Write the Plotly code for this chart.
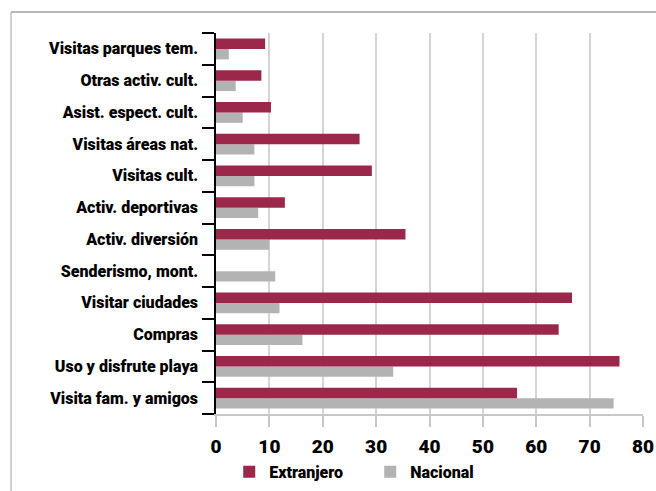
import plotly.graph_objects as go

# categories listed bottom to top, as drawn
categorias = [
    "Visita fam. y amigos",
    "Uso y disfrute playa",
    "Compras",
    "Visitar ciudades",
    "Senderismo, mont.",
    "Activ. diversión",
    "Activ. deportivas",
    "Visitas cult.",
    "Visitas áreas nat.",
    "Asist. espect. cult.",
    "Otras activ. cult.",
    "Visitas parques tem.",
]
extranjero = [56.4, 75.6, 64.2, 66.7, 0.0, 35.5, 12.9, 29.2, 26.9, 10.3, 8.5, 9.2]
nacional = [74.5, 33.2, 16.2, 11.9, 11.1, 10.0, 7.9, 7.2, 7.2, 5.0, 3.7, 2.4]
x_ticks = [0, 10, 20, 30, 40, 50, 60, 70, 80]

FONT = "Roboto, DejaVu Sans Condensed, sans-serif"
MAROON = "#9b284b"
GREY = "#b3b3b3"


def f(size):
    return dict(size=size, family=FONT, weight=900, color="black")


fig = go.Figure()

# Nacional first so it sits below Extranjero inside each group
fig.add_trace(go.Bar(y=categorias, x=nacional, orientation="h", name="Nacional",
                     marker=dict(color=GREY, line=dict(width=0)), legendrank=2))
fig.add_trace(go.Bar(y=categorias, x=extranjero, orientation="h", name="Extranjero",
                     marker=dict(color=MAROON, line=dict(width=0)), legendrank=1))

fig.update_layout(
    template="none",
    width=656, height=491,
    margin=dict(l=216, r=13, t=33, b=77, autoexpand=False),
    paper_bgcolor="white", plot_bgcolor="white",
    barmode="group", bargap=0.34, bargroupgap=0,
    font=f(16),
    showlegend=True,
    legend=dict(orientation="h", x=0.031, xanchor="left", y=-0.152, yanchor="middle",
                font=f(16), entrywidth=96, entrywidthmode="pixels", itemwidth=30,
                bgcolor="rgba(0,0,0,0)"),
    xaxis=dict(range=[0, 80], tickvals=x_ticks, showgrid=True, gridcolor="#d4d4d4", gridwidth=1.5,
               showline=True, linecolor="#c8c8c8", linewidth=1.5,
               ticks="outside", ticklen=11, tickcolor="#c8c8c8", tickwidth=1.5,
               tickfont=f(19), ticklabelstandoff=3,
               zeroline=False, automargin=False, fixedrange=True),
    yaxis=dict(categoryorder="array", categoryarray=categorias,
               showline=True, linecolor="black", linewidth=1.5, showgrid=False,
               ticks="outside", ticklen=12, tickcolor="black", tickwidth=1.5,
               tickson="boundaries", ticklabelstandoff=13,
               tickfont=f(16), automargin=False, fixedrange=True),
)

# frame around the chart area (top and left edges visible)
fig.add_shape(type="line", xref="paper", yref="paper", x0=-0.480, x1=1.04, y0=1.055, y1=1.055,
              line=dict(color="#a0a0a0", width=1.5))
fig.add_shape(type="line", xref="paper", yref="paper", x0=-0.480, x1=-0.480, y0=1.055, y1=-0.25,
              line=dict(color="#c0c0c0", width=1.5))

# page body margin would shift the 656x491 figure inside the window
fig.write_html("out.html", config={"displayModeBar": False},
               post_script="document.body.style.margin='0';")
